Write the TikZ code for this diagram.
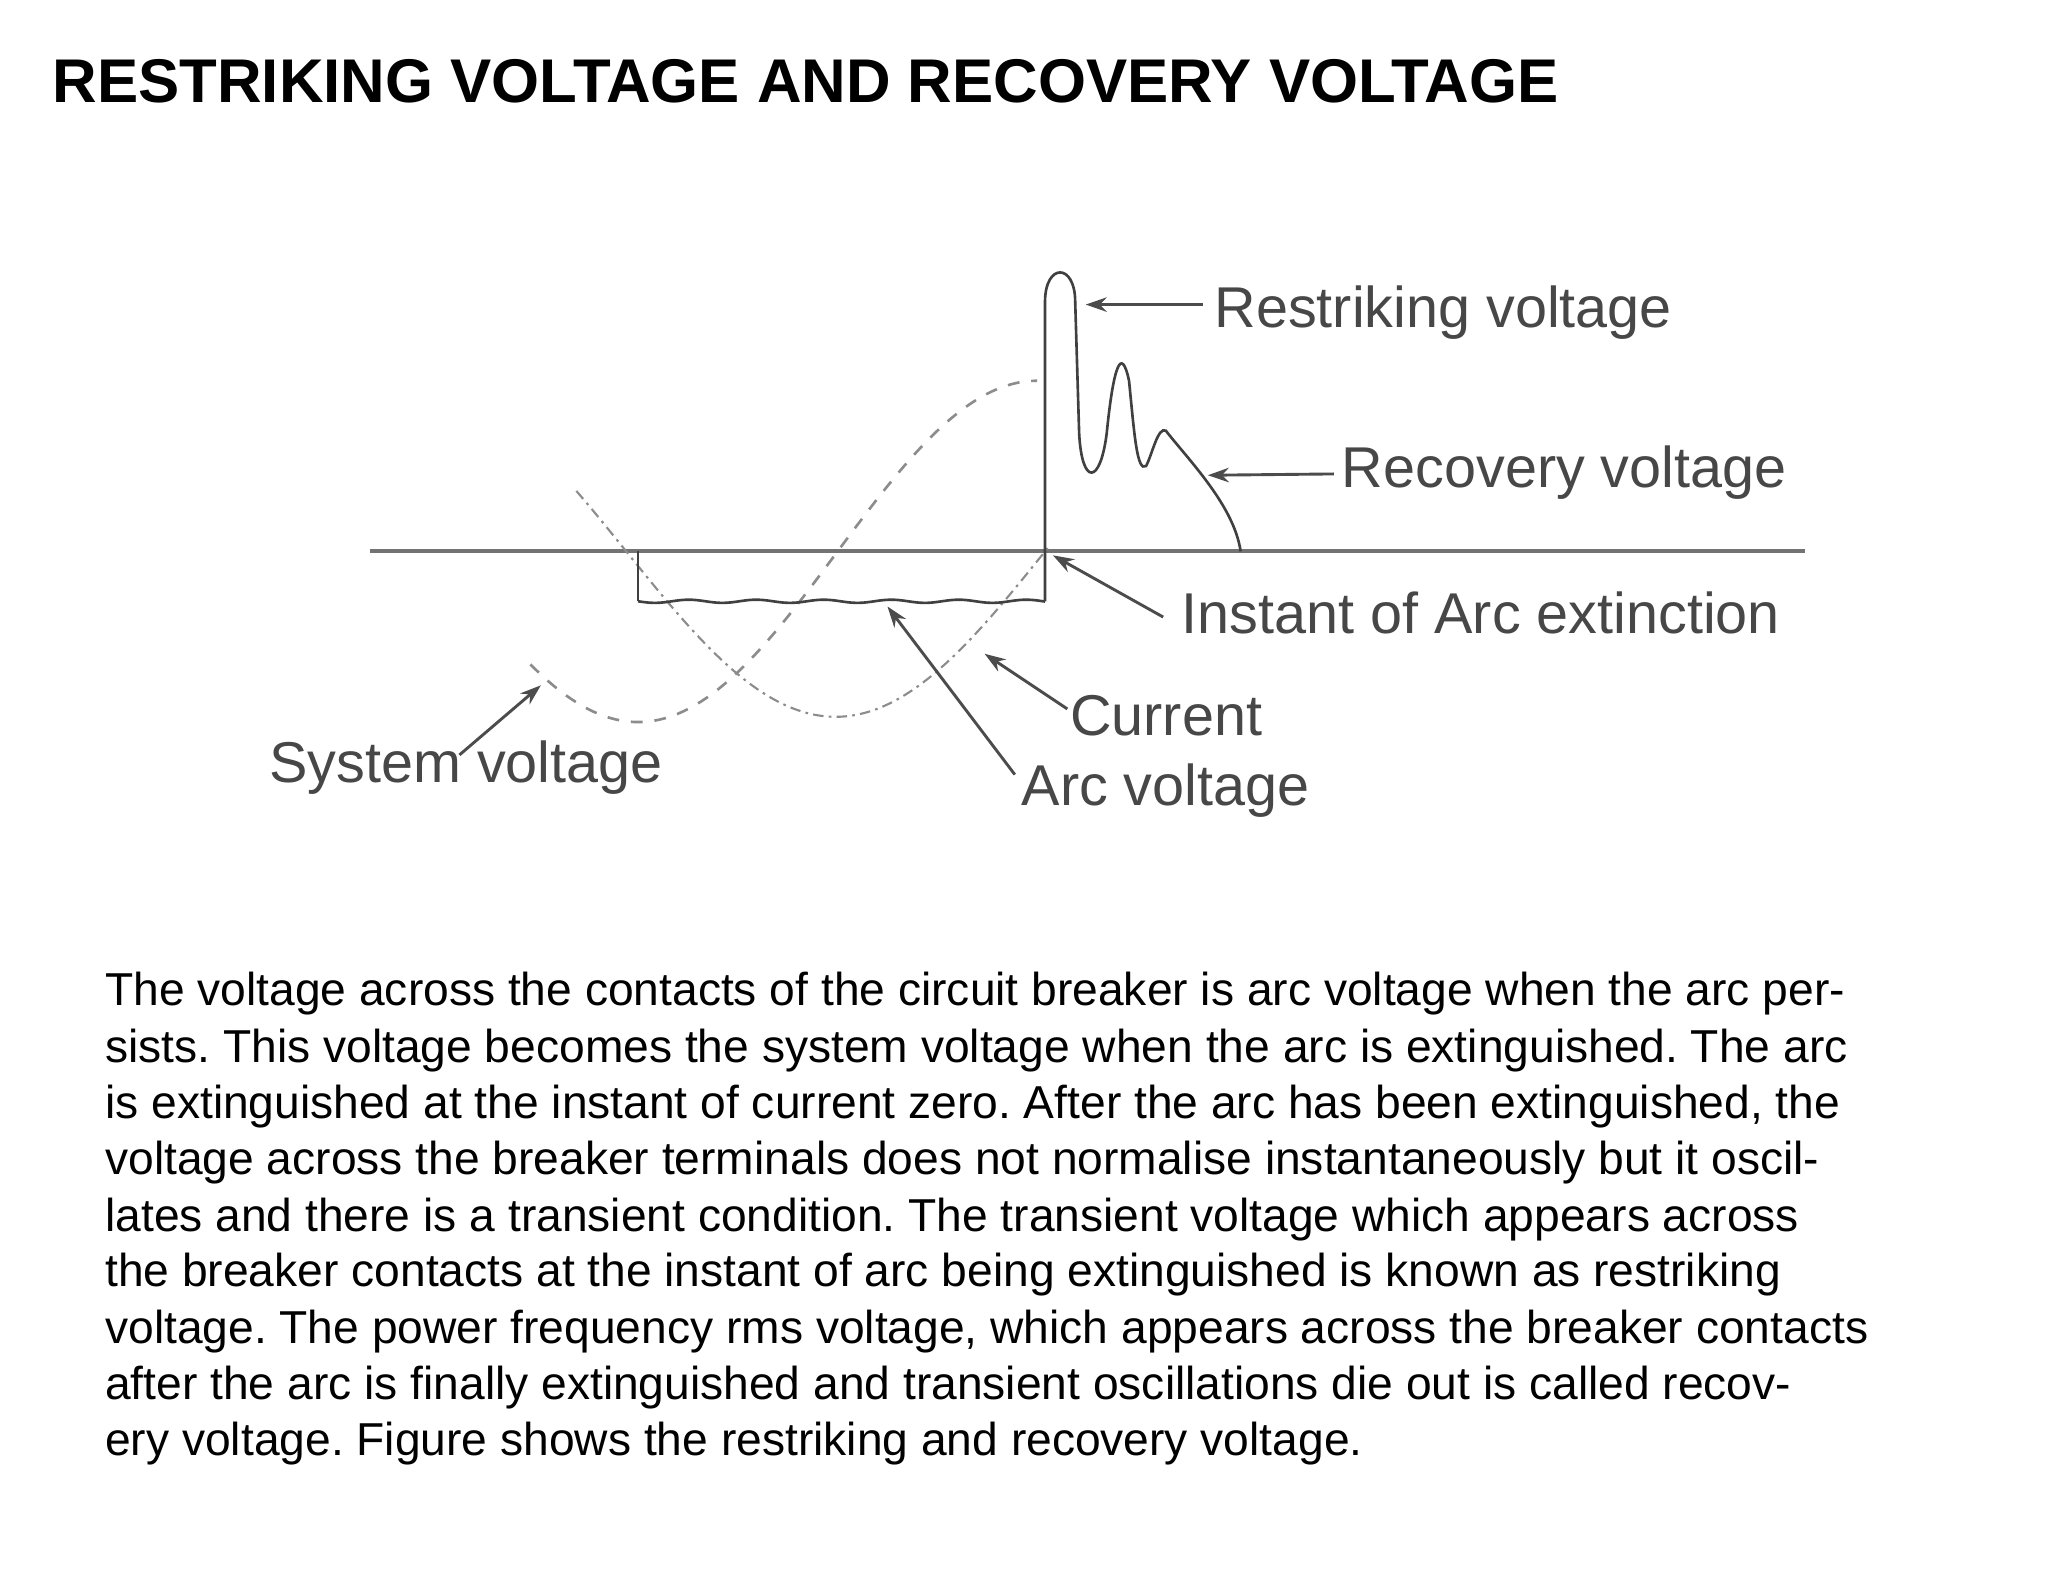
\documentclass[tikz,border=0pt]{standalone}
\usepackage{fontspec}
\setmainfont{Liberation Sans}
\usetikzlibrary{arrows.meta}
\begin{document}
\frenchspacing
\begin{tikzpicture}[x=1bp,y=-1bp,
  lbl/.style={anchor=west,inner sep=0pt,text=black!72,font=\fontsize{44}{48}\selectfont},
  par/.style={anchor=base west,inner sep=0pt,font=\fontsize{35.3}{40}\selectfont},
  arr/.style={draw=black!70,line width=2.2bp,-{Stealth[length=16bp,width=11bp]}},
  curve/.style={draw=black!75,line width=2bp}]
\useasboundingbox[fill=white] (0,0) rectangle (1560,1205);
\node[anchor=base west,inner sep=0pt,font=\fontsize{47.2}{52}\selectfont\bfseries] (title) at (40,78) {RESTRIKING VOLTAGE AND RECOVERY VOLTAGE};
% axis
\coordinate (a0) at (282,420); \coordinate (a1) at (1375,420);
\draw[draw=black!55,line width=3bp] (a0) -- (a1);
% system voltage
\draw[draw=black!45,line width=2bp,dash pattern=on 9bp off 9bp,domain=404:790,samples=80,smooth] plot (\x,{420+130*cos((\x-486)/152*90)});
% current
\draw[draw=black!45,line width=1.6bp,dash pattern=on 8bp off 4bp on 2bp off 4bp,domain=439:800,samples=80,smooth] plot (\x,{420+126*sin((\x-477)/319*180)});
% arc voltage rectangle
\draw[curve] (486,420) -- (486,458);
\draw[curve,domain=486:796,samples=150,smooth] plot (\x,{458+1.2*sin((\x-486)*7)});
% spike and oscillation
\draw[curve] (796,458) -- (796,230) .. controls (796,200) and (819,200) .. (819,230)
  -- (822,330) .. controls (824,370) and (838,370) .. (843,330)
  .. controls (848,280) and (854,262) .. (860,290)
  .. controls (864,330) and (866,360) .. (873,355)
  .. controls (878,345) and (882,325) .. (888,328)
  .. controls (905,350) and (940,385) .. (945,420);
% labels
\node[lbl] (rs) at (925,238) {Restriking voltage};
\node[lbl] (rc) at (1022,360) {Recovery voltage};
\node[lbl] (ie) at (900,467) {Instant of Arc extinction};
\node[lbl] (cu) at (815,545) {Current};
\node[lbl] (av) at (778,602) {Arc voltage};
\node[lbl] (sv) at (205,585) {System voltage};
\coordinate (trs) at (827,232); \coordinate (trc) at (920,362);
\coordinate (tie) at (802,423); \coordinate (tcu) at (750,498);
\coordinate (tav) at (676,462); \coordinate (tsv) at (412,522);
\draw[arr] (916,232) -- (trs);
\draw[arr] (1016,361) -- (trc);
\draw[arr] (886,470) -- (tie);
\draw[arr] (813,540) -- (tcu);
\draw[arr] (773,590) -- (tav);
\draw[arr] (350,575) -- (tsv);
% paragraph
\node[par] (p1) at (80,766) {The voltage across the contacts of the circuit breaker is arc voltage when the arc per-};
\node[par] (p2) at (80,809) {sists. This voltage becomes the system voltage when the arc is extinguished. The arc};
\node[par] (p3) at (80,852) {is extinguished at the instant of current zero. After the arc has been extinguished, the};
\node[par] (p4) at (80,895) {voltage across the breaker terminals does not normalise instantaneously but it oscil-};
\node[par] (p5) at (80,938) {lates and there is a transient condition. The transient voltage which appears across};
\node[par] (p6) at (80,980) {the breaker contacts at the instant of arc being extinguished is known as restriking};
\node[par] (p7) at (80,1023) {voltage. The power frequency rms voltage, which appears across the breaker contacts};
\node[par] (p8) at (80,1066) {after the arc is finally extinguished and transient oscillations die out is called recov-};
\node[par] (p9) at (80,1109) {ery voltage. Figure shows the restriking and recovery voltage.};
\end{tikzpicture}
\end{document}
